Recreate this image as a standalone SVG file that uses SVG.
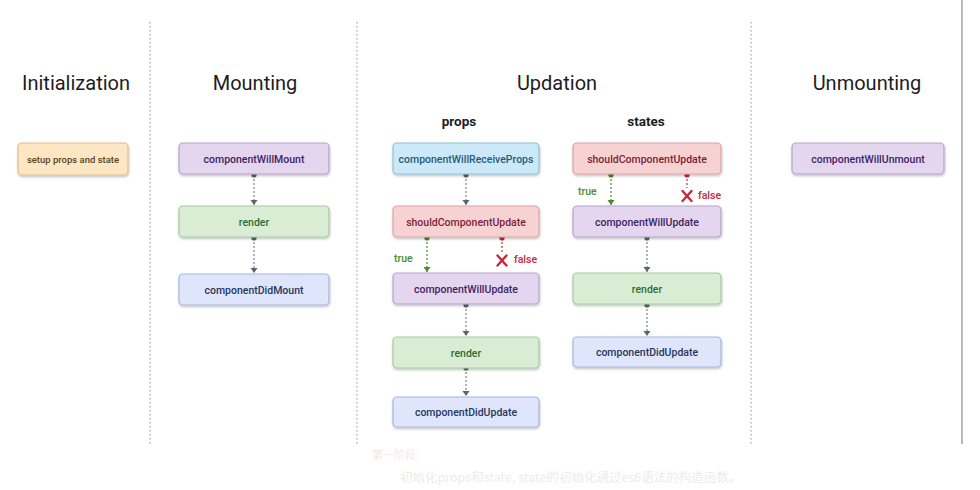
<svg xmlns="http://www.w3.org/2000/svg" width="980" height="490" viewBox="0 0 980 490">
<defs>
<filter id="sh" x="-10%" y="-20%" width="120%" height="150%">
<feDropShadow dx="0.5" dy="1.5" stdDeviation="1" flood-color="#000" flood-opacity="0.25"/>
</filter>
<marker id="dotG" markerWidth="6" markerHeight="6" refX="3" refY="3" markerUnits="userSpaceOnUse"><circle cx="3" cy="3" r="2.6" fill="#5d6470"/></marker>
<marker id="arrG" markerWidth="8" markerHeight="7" refX="4" refY="6" markerUnits="userSpaceOnUse"><path d="M0.5,1 L7.5,1 L4,6 Z" fill="#5d6470"/></marker>
<marker id="dotT" markerWidth="6" markerHeight="6" refX="3" refY="3" markerUnits="userSpaceOnUse"><circle cx="3" cy="3" r="2.6" fill="#4c8a2c"/></marker>
<marker id="arrT" markerWidth="8" markerHeight="7" refX="4" refY="6" markerUnits="userSpaceOnUse"><path d="M0.5,1 L7.5,1 L4,6 Z" fill="#4c8a2c"/></marker>
<marker id="dotF" markerWidth="6" markerHeight="6" refX="3" refY="3" markerUnits="userSpaceOnUse"><circle cx="3" cy="3" r="2.6" fill="#c8283e"/></marker>
</defs>
<style>
.title{font-family:Roboto,"Liberation Sans",sans-serif;font-size:20px;font-weight:normal;fill:#1d1d1f;text-anchor:middle}
.sub{font-family:Roboto,"Liberation Sans",sans-serif;font-size:13.5px;font-weight:bold;fill:#1d1d1f;text-anchor:middle}
.lbl{font-family:Roboto,"Liberation Sans",sans-serif;font-size:10.5px;font-weight:500;text-anchor:middle}
.box{stroke-width:1.2;filter:url(#sh)}
.purple rect{fill:#e3d6ee;stroke:#b8a3cc}.purple text{fill:#3e2464}
.green rect{fill:#d9edd4;stroke:#a7c99f}.green text{fill:#2f6b33}
.blue rect{fill:#dfe6fb;stroke:#a7b6dd}.blue text{fill:#27365f}
.cyan rect{fill:#cbe9f8;stroke:#8ec2da}.cyan text{fill:#2a5a78}
.red rect{fill:#f7d2d3;stroke:#dba3a6}.red text{fill:#7d1f36}
.peach rect{fill:#fce6c4;stroke:#dfc08c}.peach text{fill:#5e4321}
.div{stroke:#b8b8b8;stroke-width:1.6;stroke-dasharray:1.6 2.4}
.c{stroke:#7d828c;stroke-width:1.2;stroke-dasharray:2 2;fill:none;marker-start:url(#dotG);marker-end:url(#arrG)}
.ct{stroke:#4c8a2c;stroke-width:1.2;stroke-dasharray:2 2;fill:none;marker-start:url(#dotT);marker-end:url(#arrT)}
.cf{stroke:#c8283e;stroke-width:1.2;stroke-dasharray:2 2;fill:none;marker-start:url(#dotF)}
.x{stroke:#c8283e;stroke-width:2.4;stroke-linecap:round}
.tl{font-family:Roboto,"Liberation Sans",sans-serif;font-size:10.5px;font-weight:500;fill:#4c8a2c}
.fl{font-family:Roboto,"Liberation Sans",sans-serif;font-size:10.5px;font-weight:500;fill:#c8283e}
</style>
<rect width="980" height="490" fill="#ffffff"/>

<g id="dividers">
<line class="div" x1="150" y1="22" x2="150" y2="445"/>
<line class="div" x1="357" y1="22" x2="357" y2="445"/>
<line class="div" x1="751" y1="22" x2="751" y2="445"/>
<line x1="962" y1="0" x2="962" y2="444" stroke="#8a8a8a" stroke-width="1.2"/>
</g>

<g id="titles">
<text class="title" x="76" y="90">Initialization</text>
<text class="title" x="255" y="90">Mounting</text>
<text class="title" x="557" y="90">Updation</text>
<text class="title" x="867" y="90">Unmounting</text>
<text class="sub" x="459" y="126">props</text>
<text class="sub" x="646" y="126">states</text>
</g>

<g id="connectors">
<line class="c" x1="254" y1="175" x2="254" y2="205"/>
<line class="c" x1="254" y1="238" x2="254" y2="273"/>
<line class="c" x1="466" y1="175" x2="466" y2="205"/>
<line class="ct" x1="427" y1="238" x2="427" y2="272"/>
<line class="cf" x1="502" y1="238" x2="502" y2="252"/>
<line class="c" x1="466" y1="305" x2="466" y2="336"/>
<line class="c" x1="466" y1="368" x2="466" y2="396"/>
<line class="ct" x1="611" y1="175" x2="611" y2="205"/>
<line class="cf" x1="687" y1="175" x2="687" y2="188"/>
<line class="c" x1="647" y1="238" x2="647" y2="272"/>
<line class="c" x1="647" y1="305" x2="647" y2="336"/>
<g id="false-marks">
<line class="x" x1="497.5" y1="255.5" x2="506.5" y2="265.5"/>
<line class="x" x1="506.5" y1="255.5" x2="497.5" y2="265.5"/>
<line class="x" x1="682.5" y1="191" x2="691.5" y2="201"/>
<line class="x" x1="691.5" y1="191" x2="682.5" y2="201"/>
</g>
<text class="tl" x="394" y="262">true</text>
<text class="fl" x="514" y="263">false</text>
<text class="tl" x="578" y="195">true</text>
<text class="fl" x="698" y="199">false</text>
</g>

<g id="setupProps" class="peach"><rect class="box" x="18" y="143" width="110" height="32" rx="4"/><text class="lbl" x="73" y="162.5" style="font-size:9.5px">setup props and state</text></g>

<g id="mountWill" class="purple"><rect class="box" x="179" y="143" width="150" height="31" rx="4"/><text class="lbl" x="254" y="162.5">componentWillMount</text></g>
<g id="mountRender" class="green"><rect class="box" x="179" y="206" width="150" height="31" rx="4"/><text class="lbl" x="254" y="225.5">render</text></g>
<g id="mountDid" class="blue"><rect class="box" x="179" y="274" width="150" height="31" rx="4"/><text class="lbl" x="254" y="293.5">componentDidMount</text></g>

<g id="propsReceive" class="cyan"><rect class="box" x="393" y="143" width="146" height="31" rx="4"/><text class="lbl" x="466" y="162.5">componentWillReceiveProps</text></g>
<g id="propsShould" class="red"><rect class="box" x="393" y="206" width="146" height="31" rx="4"/><text class="lbl" x="466" y="225.5">shouldComponentUpdate</text></g>
<g id="propsWillUpdate" class="purple"><rect class="box" x="393" y="273" width="146" height="31" rx="4"/><text class="lbl" x="466" y="292.5">componentWillUpdate</text></g>
<g id="propsRender" class="green"><rect class="box" x="393" y="337" width="146" height="31" rx="4"/><text class="lbl" x="466" y="356.5">render</text></g>
<g id="propsDidUpdate" class="blue"><rect class="box" x="393" y="397" width="146" height="30" rx="4"/><text class="lbl" x="466" y="416">componentDidUpdate</text></g>

<g id="statesShould" class="red"><rect class="box" x="573" y="143" width="148" height="31" rx="4"/><text class="lbl" x="647" y="162.5">shouldComponentUpdate</text></g>
<g id="statesWillUpdate" class="purple"><rect class="box" x="573" y="206" width="148" height="31" rx="4"/><text class="lbl" x="647" y="225.5">componentWillUpdate</text></g>
<g id="statesRender" class="green"><rect class="box" x="573" y="273" width="148" height="31" rx="4"/><text class="lbl" x="647" y="292.5">render</text></g>
<g id="statesDidUpdate" class="blue"><rect class="box" x="573" y="337" width="148" height="30" rx="4"/><text class="lbl" x="647" y="356">componentDidUpdate</text></g>

<g id="unmountWill" class="purple"><rect class="box" x="792" y="143" width="152" height="31" rx="4"/><text class="lbl" x="868" y="162.5">componentWillUnmount</text></g>

<g id="caption" font-family="'Noto Sans CJK SC',sans-serif">
<text x="372" y="459" font-size="11" fill="#f7e8ea">第一阶段:</text>
<text x="400" y="482" font-size="12.5" fill="#ececec">初始化props和state, state的初始化通过es6语法的构造函数。</text>
</g>
</svg>
